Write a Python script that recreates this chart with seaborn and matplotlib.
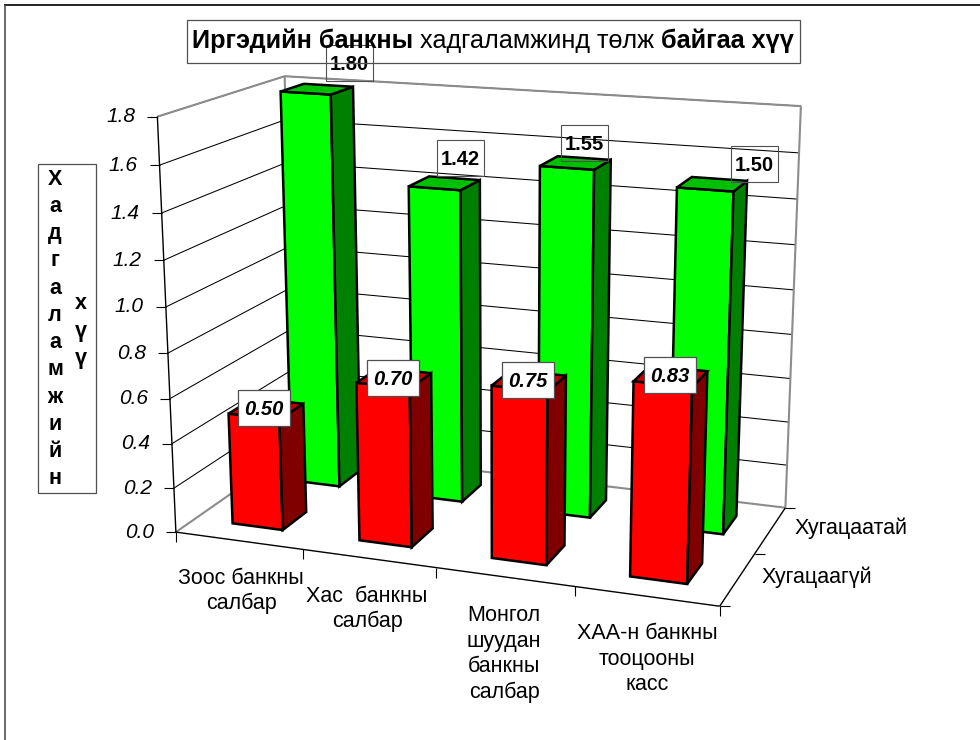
import numpy as np
import pandas as pd
import seaborn as sns
import matplotlib
matplotlib.use("Agg")
import matplotlib.pyplot as plt
from matplotlib.patches import Polygon, Rectangle

# ---- data ----
categories = ["Зоос банкны\nсалбар", "Хас  банкны\nсалбар",
              "Монгол\nшуудан\nбанкны\nсалбар", "ХАА-н банкны\nтооцооны\nкасс"]
series_names = ["Хугацаагүй", "Хугацаатай"]
without_term = [0.50, 0.70, 0.75, 0.83]
with_term = [1.80, 1.42, 1.55, 1.50]
y_ticks = [0.0, 0.2, 0.4, 0.6, 0.8, 1.0, 1.2, 1.4, 1.6, 1.8]

# ---- layout ----
W, H = 980, 740
FONT = "Liberation Sans"
Z_MAX = 1.8
GAP = 0.30
# the chart frame corners on the page: (category, depth, value) -> pixel
frame_3d = [(0, 0, 0), (4, 0, 0), (4, 2, 0), (0, 2, 0), (0, 0, Z_MAX), (0, 2, Z_MAX), (4, 2, Z_MAX)]
frame_px = [(175, 532), (720, 606), (785, 508), (296, 449), (158, 117), (284, 76), (801, 106)]
cat_label_pos = [(241, 591), (367, 609), (504, 654), (647, 659)]
series_label_pos = [(762, 577), (795, 528)]
low_label_pos = [(264, 408), (393, 378), (528, 380), (670, 375)]
high_label_pos = [(349, 63), (460, 158), (584, 143), (754, 164)]


def fit_camera(p3, p2):
    rows, rhs = [], []
    for (X, Y, Z), (u, v) in zip(p3, p2):
        rows.append([X, Y, Z, 1, 0, 0, 0, 0, -u * X, -u * Y, -u * Z]); rhs.append(u)
        rows.append([0, 0, 0, 0, X, Y, Z, 1, -v * X, -v * Y, -v * Z]); rhs.append(v)
    m = np.linalg.lstsq(np.array(rows, float), np.array(rhs, float), rcond=None)[0]
    return np.append(m, 1).reshape(3, 4)


CAM = fit_camera(frame_3d, frame_px)


def proj(x, y, z):
    q = CAM @ np.array([x, y, z, 1.0])
    return q[0] / q[2], q[1] / q[2]


sns.set_theme(style="white")
plt.rcParams["font.family"] = [FONT, "DejaVu Sans"]
plt.rcParams["text.color"] = "black"
fig = plt.figure(figsize=(W / 100, H / 100), dpi=100, facecolor="white")
ax = fig.add_axes([0, 0, 1, 1])

# gridlines through seaborn
rows = []
for k, t in enumerate(y_ticks):
    if t == 0:
        continue
    for n, pt in enumerate([proj(0, 0, t), proj(0, 2, t), proj(4, 2, t)]):
        rows.append({"line": k, "order": n, "px": pt[0], "py": pt[1]})
grid = pd.DataFrame(rows)
sns.lineplot(data=grid, x="px", y="py", units="line", estimator=None, sort=False,
             color="black", lw=0.75, ax=ax, zorder=2, legend=False)


def seg(a, b, c="black", lw=0.8, z=3):
    ax.plot([a[0], b[0]], [a[1], b[1]], color=c, lw=lw, zorder=z, solid_capstyle="butt")


# outer border (only top and left edges are drawn in the source picture)
seg((4, 5), (980, 5), "black", 1.2, 1)
seg((5, 5), (5, 740), "#505050", 1.2, 1)

# walls
GREY = "#8c8c8c"
for a, b in [((0, 0, Z_MAX), (0, 2, Z_MAX)), ((0, 2, Z_MAX), (4, 2, Z_MAX)),
             ((4, 2, Z_MAX), (4, 2, 0)), ((0, 2, Z_MAX), (0, 2, 0)),
             ((0, 0, 0), (0, 2, 0)), ((0, 2, 0), (4, 2, 0))]:
    seg(proj(*a), proj(*b), GREY, 1.5, 3)

# axes
seg(proj(0, 0, 0), proj(0, 0, Z_MAX), "black", 1.0, 3.1)
seg(proj(0, 0, 0), proj(4, 0, 0), "black", 1.0, 3.1)
seg(proj(4, 0, 0), proj(4, 2, 0), "black", 1.0, 3.1)
for t in y_ticks:
    p = proj(0, 0, t)
    seg((p[0] - 10, p[1]), p, "black", 0.8)
    ax.text(p[0] - 22, p[1], f"{t:.1f}", ha="right", va="center", style="italic",
            fontsize=15, color="black", zorder=6)
for i in range(5):
    p = proj(i, 0, 0)
    seg(p, (p[0], p[1] + 10), "black", 0.8)
for s in range(3):
    p = proj(4, s, 0)
    seg(p, (p[0] + 10, p[1]), "black", 0.8)


# bars
def bar(i, s, v, front, side, top, z):
    x0, x1 = i + GAP, i + 1 - GAP
    y0, y1 = s + GAP, s + 1 - GAP
    faces = [
        ([(x0, y0, 0), (x1, y0, 0), (x1, y0, v), (x0, y0, v)], front),
        ([(x1, y0, 0), (x1, y1, 0), (x1, y1, v), (x1, y0, v)], side),
        ([(x0, y0, v), (x1, y0, v), (x1, y1, v), (x0, y1, v)], top),
    ]
    for pts, col in faces:
        ax.add_patch(Polygon([proj(*q) for q in pts], closed=True, fc=col, ec="black",
                             lw=1.8, joinstyle="miter", zorder=z))


values_by_series = [without_term, with_term]
colours = [("#FF0000", "#800000", "#C00000"), ("#00FF00", "#008000", "#00C000")]
for s in (1, 0):
    for i, v in enumerate(values_by_series[s]):
        bar(i, s, v, *colours[s], z=4 + (1 - s) + i * 0.01)

# value labels
HI_BOX = (47, 36)
LO_BOX = (52, 36)
for v, (x, y) in zip(with_term, high_label_pos):
    ax.add_patch(Rectangle((x - HI_BOX[0] / 2, y - HI_BOX[1] / 2), *HI_BOX, fill=False, ec="#505050", lw=0.8, zorder=7))
    ax.text(x, y + 1.5, f"{v:.2f}", ha="center", va="center", fontsize=14.5, weight="bold", zorder=7.1)
for v, (x, y) in zip(without_term, low_label_pos):
    ax.add_patch(Rectangle((x - LO_BOX[0] / 2, y - LO_BOX[1] / 2), *LO_BOX, fc="white", ec="#505050", lw=0.9, zorder=7))
    ax.text(x, y + 1.5, f"{v:.2f}", ha="center", va="center", fontsize=14.5, weight="bold", style="italic", zorder=7.1)

# category and series labels
for lab, (x, y) in zip(categories, cat_label_pos):
    ax.text(x, y, lab, ha="center", va="center", fontsize=15.5, linespacing=1.28, zorder=6)
for lab, (x, y) in zip(series_names, series_label_pos):
    ax.text(x, y, lab, ha="left", va="center", fontsize=15.5, zorder=6)

# title box with mixed weights
fig.canvas.draw()
rend = fig.canvas.get_renderer()
x = 192
for part, w in [("Иргэдийн банкны", "bold"), (" хадгаламжинд төлж ", "normal"), ("байгаа хүү", "bold")]:
    t = ax.text(x, 41, part.replace(" ", "\u00a0"), ha="left", va="center", fontsize=18.2, weight=w, zorder=8)
    bb = t.get_window_extent(rend)
    x += bb.width
ax.add_patch(Rectangle((187, 20), 613, 43, fill=False, ec="#505050", lw=0.9, zorder=8))

# vertical axis title box
ax.add_patch(Rectangle((38, 164), 58, 329, fill=False, ec="#505050", lw=0.9, zorder=6))
ax.text(55, 329, "\n".join("Хадгаламжийн"), ha="center", va="center", fontsize=15.5, weight="bold",
        linespacing=1.39, zorder=6)
ax.text(81, 331, "\n".join("хүү"), ha="center", va="center", fontsize=15.5, weight="bold",
        linespacing=1.39, zorder=6)

ax.set_xlim(0, W)
ax.set_ylim(H, 0)
ax.set_xlabel("")
ax.set_ylabel("")
ax.axis("off")
fig.savefig("out.png", dpi=100, facecolor="white")
